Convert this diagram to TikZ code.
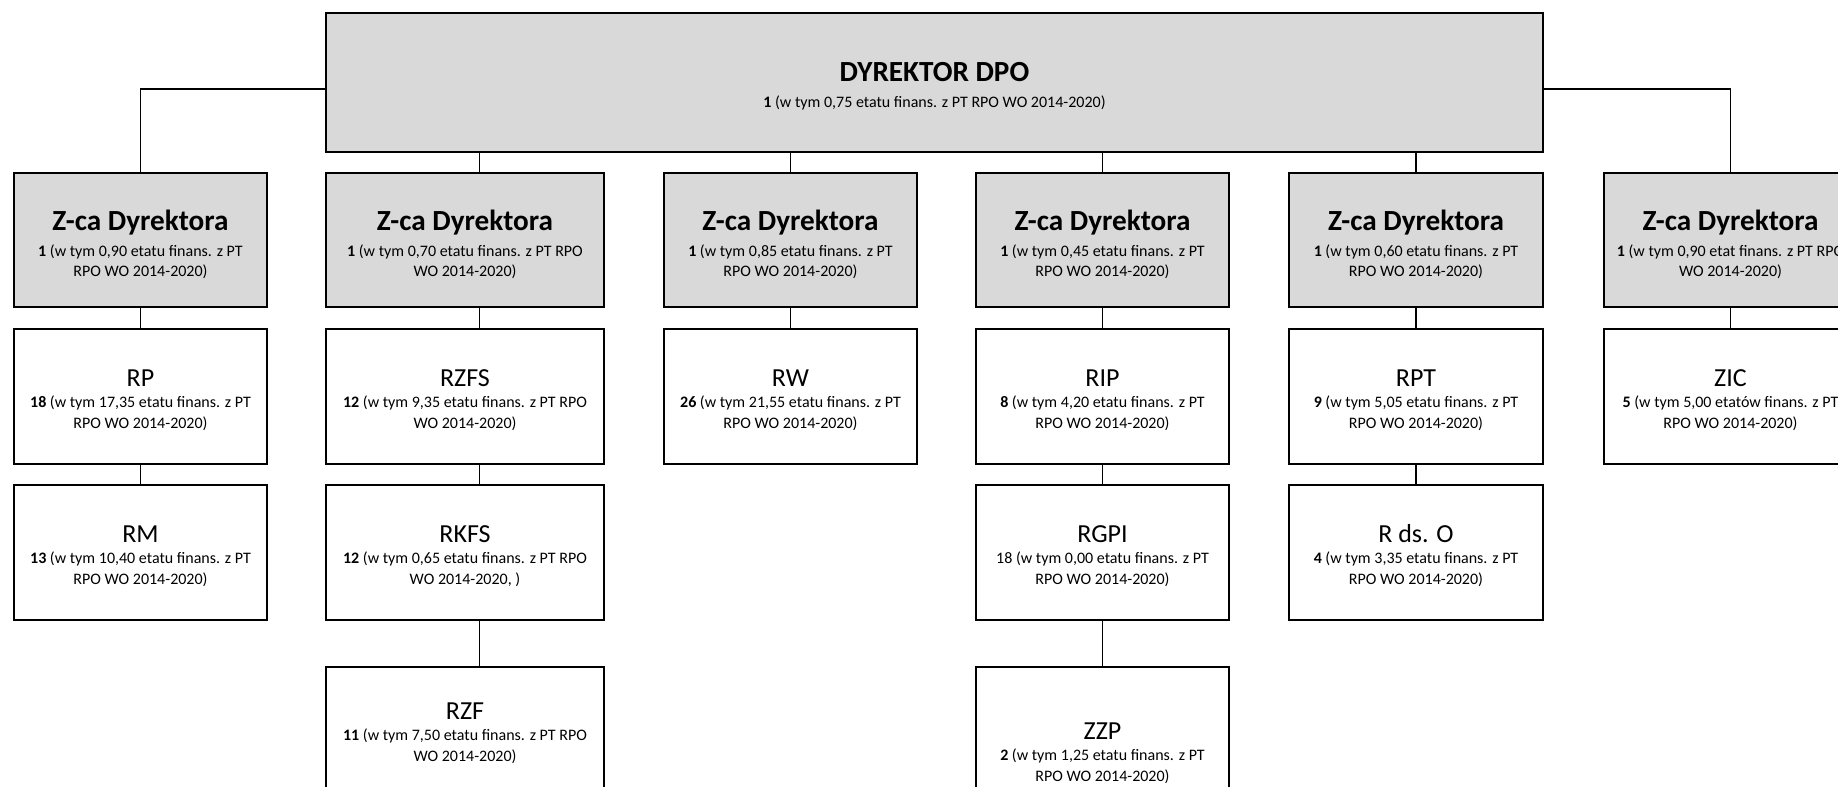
\documentclass[tikz,border=0pt]{standalone}
\usepackage{fontspec}
\setmainfont{Carlito}
\usepackage{tikz}
\usetikzlibrary{positioning,calc}
\definecolor{boxgray}{HTML}{D9D9D9}
\def\bigname(#1){{\fontsize{14.6}{15}\selectfont\bfseries\rule{0pt}{14.7pt}#1}}
\def\unitname(#1){{\fontsize{13}{14}\selectfont\rule{0pt}{12pt}#1}}
\tikzstyle{headbox} = [draw=black, fill=boxgray, line width=0.75pt, minimum height=67pt, inner sep=0pt, align=center, font=\fontsize{8}{10.2}\selectfont]
\tikzstyle{unitbox} = [draw=black, fill=white, line width=0.75pt, minimum height=67.5pt, inner sep=0pt, align=center, font=\fontsize{8}{10.2}\selectfont]
\tikzstyle{link} = [line width=0.75pt, draw=black]

\begin{document}
\begin{tikzpicture}[x=0.5pt,y=-0.5pt]
\useasboundingbox (0,0) rectangle (1838,787);
\clip (0,0) rectangle (1838,787);
\node[headbox, minimum width=608.5pt, minimum height=69.5pt] (dpo) at (934.5,82.5) {{\fontsize{14.6}{15}\selectfont\bfseries\rule{0pt}{13.3pt}DYREKTOR DPO}\\[2.9pt] \textbf{1} (w tym 0,75 etatu finans. z PT RPO WO 2014-2020)};
% zastepcy
\node[headbox, minimum width=126.5pt] (z1) at (140.5,240) {\bigname(Z-ca Dyrektora)\\[2.9pt] \textbf{1} (w tym 0,90 etatu finans. z PT\\ RPO WO 2014-2020)};
\node[headbox, minimum width=139pt] (z2) at (465,240) {\bigname(Z-ca Dyrektora)\\[2.9pt] \textbf{1} (w tym 0,70 etatu finans. z PT RPO\\ WO 2014-2020)};
\node[headbox, minimum width=126.5pt] (z3) at (790.5,240) {\bigname(Z-ca Dyrektora)\\[2.9pt] \textbf{1} (w tym 0,85 etatu finans. z PT\\ RPO WO 2014-2020)};
\node[headbox, minimum width=126.5pt] (z4) at (1102.5,240) {\bigname(Z-ca Dyrektora)\\[2.9pt] \textbf{1} (w tym 0,45 etatu finans. z PT\\ RPO WO 2014-2020)};
\node[headbox, minimum width=127pt] (z5) at (1416,240) {\bigname(Z-ca Dyrektora)\\[2.9pt] \textbf{1} (w tym 0,60 etatu finans. z PT\\ RPO WO 2014-2020)};
\node[headbox, minimum width=126.5pt] (z6) at (1730.5,240) {\bigname(Z-ca Dyrektora)\\[2.9pt] \textbf{1} (w tym 0,90 etat finans. z PT RPO\\ WO 2014-2020)};
% referaty
\node[unitbox, minimum width=126.5pt] (rp) at (140.5,396.5) {\unitname(RP)\\[0.6pt] \textbf{18} (w tym 17,35 etatu finans. z PT\\ RPO WO 2014-2020)};
\node[unitbox, minimum width=126.5pt] (rm) at (140.5,552.5) {\unitname(RM)\\[0.6pt] \textbf{13} (w tym 10,40 etatu finans. z PT\\ RPO WO 2014-2020)};
\node[unitbox, minimum width=139pt] (rzfs) at (465,396.5) {\unitname(RZFS)\\[0.6pt] \textbf{12} (w tym 9,35 etatu finans. z PT RPO\\ WO 2014-2020)};
\node[unitbox, minimum width=139pt] (rkfs) at (465,552.5) {\unitname(RKFS)\\[0.6pt] \textbf{12} (w tym 0,65 etatu finans. z PT RPO\\ WO 2014-2020, )};
\node[unitbox, minimum width=139pt, minimum height=62.5pt] (rzf) at (465,729.5) {\unitname(RZF)\\[0.6pt] \textbf{11} (w tym 7,50 etatu finans. z PT RPO\\ WO 2014-2020)};
\node[unitbox, minimum width=126.5pt] (rw) at (790.5,396.5) {\unitname(RW)\\[0.6pt] \textbf{26} (w tym 21,55 etatu finans. z PT\\ RPO WO 2014-2020)};
\node[unitbox, minimum width=126.5pt] (rip) at (1102.5,396.5) {\unitname(RIP)\\[0.6pt] \textbf{8} (w tym 4,20 etatu finans. z PT\\ RPO WO 2014-2020)};
\node[unitbox, minimum width=126.5pt] (rgpi) at (1102.5,552.5) {\unitname(RGPI)\\[0.6pt] 18 (w tym 0,00 etatu finans. z PT\\ RPO WO 2014-2020)};
\node[unitbox, minimum width=126.5pt, minimum height=82.5pt] (zzp) at (1102.5,749.5) {\unitname(ZZP)\\[0.6pt] \textbf{2} (w tym 1,25 etatu finans. z PT\\ RPO WO 2014-2020)};
\node[unitbox, minimum width=127pt] (rpt) at (1416,396.5) {\unitname(RPT)\\[0.6pt] \textbf{9} (w tym 5,05 etatu finans. z PT\\ RPO WO 2014-2020)};
\node[unitbox, minimum width=127pt] (rdso) at (1416,552.5) {\unitname(R ds. O)\\[0.6pt] \textbf{4} (w tym 3,35 etatu finans. z PT\\ RPO WO 2014-2020)};
\node[unitbox, minimum width=126.5pt] (zic) at (1730.5,396.5) {\unitname(ZIC)\\[0.6pt] \textbf{5} (w tym 5,00 etatów finans. z PT\\ RPO WO 2014-2020)};
% polaczenia
\draw[link] ($(dpo.west)+(0,6.5)$) -| (z1);
\draw[link] ($(dpo.east)+(0,6.5)$) -| (z6);
\draw[link] ($(z2.north)+(14.5,0)$) -- ($(z2.north |- dpo.south)+(14.5,0)$);
\draw[link] (z3) -- (z3 |- dpo.south);
\draw[link] (z4) -- (z4 |- dpo.south);
\draw[link] (z5) -- (z5 |- dpo.south);
\draw[link] (z1) -- (rp);
\draw[link] (rp) -- (rm);
\draw[link] ($(z2.south)+(14.5,0)$) -- ($(rzfs.north)+(14.5,0)$);
\draw[link] ($(rzfs.south)+(14.5,0)$) -- ($(rkfs.north)+(14.5,0)$);
\draw[link] ($(rkfs.south)+(14.5,0)$) -- ($(rzf.north)+(14.5,0)$);
\draw[link] (z3) -- (rw);
\draw[link] (z4) -- (rip);
\draw[link] (rip) -- (rgpi);
\draw[link] (rgpi) -- (zzp);
\draw[link] (z5) -- (rpt);
\draw[link] (rpt) -- (rdso);
\draw[link] (z6) -- (zic);
\end{tikzpicture}
\end{document}
